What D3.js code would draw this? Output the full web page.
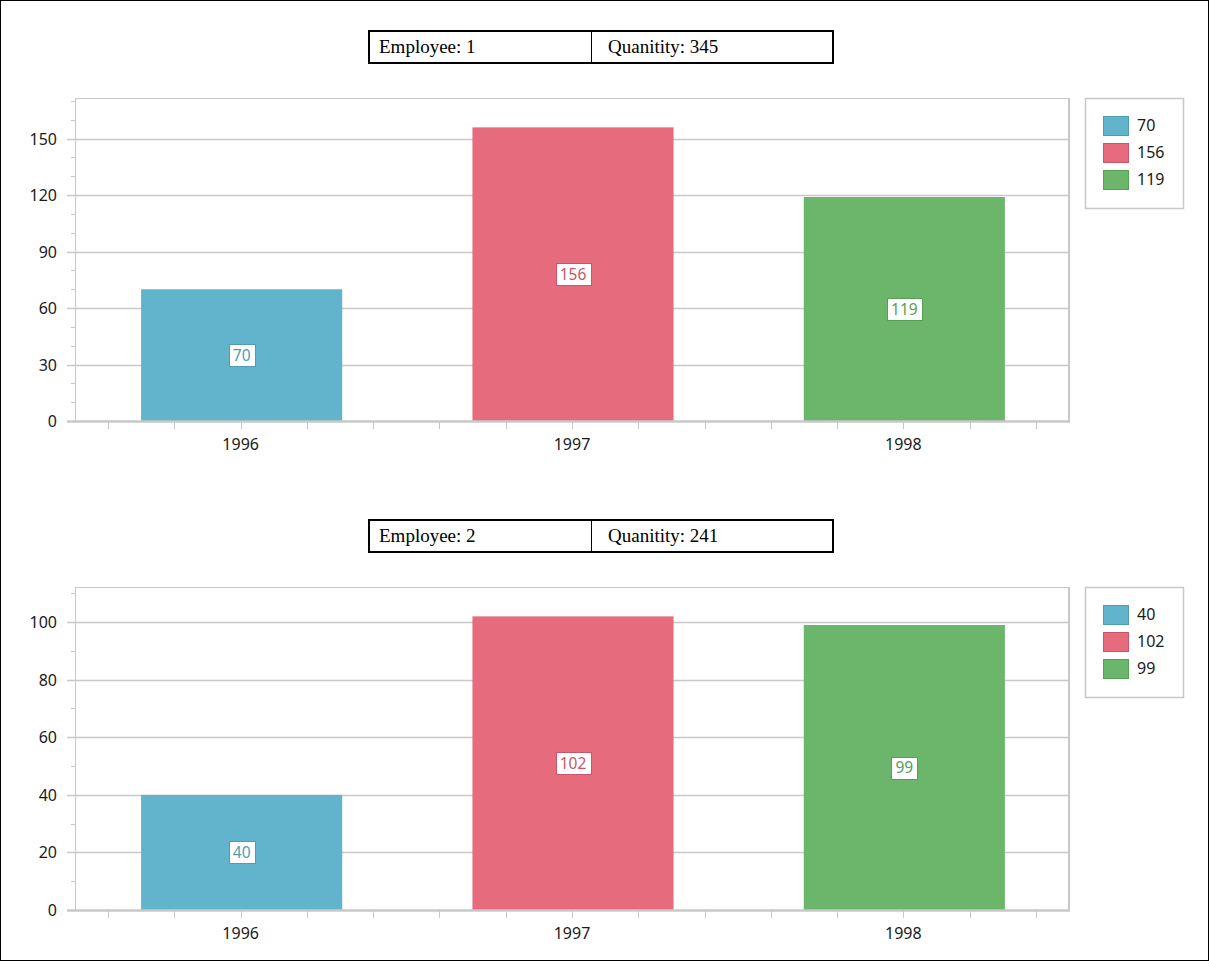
<!DOCTYPE html>
<html><head><meta charset="utf-8">
<script src="https://cdn.jsdelivr.net/npm/d3@7"></script>
<style>
html,body{margin:0;padding:0;background:#fff;}
svg{display:block;}
</style></head>
<body>
<svg id="c" width="1209" height="961"></svg>
<script>
const years = ["1996", "1997", "1998"];
const employees = [1, 2];
const quantities = [345, 241];
const values1 = [70, 156, 119];
const values2 = [40, 102, 99];
const yTicks1 = [0, 30, 60, 90, 120, 150];
const yTicks2 = [0, 20, 40, 60, 80, 100];
const minorStep1 = 10;
const minorStep2 = 10;
const colors = ["#62b4cd", "#e66b7c", "#6cb66c"];
const borders = ["#4f9db5", "#cc5468", "#55a055"];

const svg = d3.select("#c");
const W = 1209, H = 961;
svg.append("rect").attr("x", 0.5).attr("y", 0.5).attr("width", W - 1).attr("height", H - 1)
  .attr("fill", "#fff").attr("stroke", "#000").attr("stroke-width", 1);

const axisFont = "'Noto Sans', 'Open Sans', sans-serif";
const serifFont = "'Liberation Serif', 'Times New Roman', serif";

function drawPanel(top, emp, qty, values, ticks, minorStep) {
  const g = svg.append("g");
  // header table
  const hx = 369, hw = 464, hy = top, hh = 32;
  g.append("rect").attr("x", hx).attr("y", hy).attr("width", hw).attr("height", hh)
    .attr("fill", "#fff").attr("stroke", "#000").attr("stroke-width", 2);
  g.append("line").attr("x1", 591.5).attr("x2", 591.5).attr("y1", hy).attr("y2", hy + hh)
    .attr("stroke", "#000").attr("stroke-width", 1);
  g.append("text").attr("x", 379).attr("y", hy + 22).text("Employee: " + emp)
    .attr("font-family", serifFont).attr("font-size", 19).attr("fill", "#000");
  g.append("text").attr("x", 608).attr("y", hy + 22).text("Quanitity: " + qty)
    .attr("font-family", serifFont).attr("font-size", 19).attr("fill", "#000");

  // plot area
  const px0 = 75, px1 = 1069, py0 = top + 67, py1 = top + 390;
  const maxV = d3.max(values) * 1.1;
  const y = d3.scaleLinear().domain([0, maxV]).range([py1, py0]);
  const x = d3.scaleBand().domain(years).range([px0 + 1, px1 + 1]).paddingInner(0.393).paddingOuter(0.1965);
  const xb = d3.scaleBand().domain(years).range([px0, px1]);

  g.append("rect").attr("x", px0 + 0.5).attr("y", py0 + 0.5).attr("width", px1 - px0 - 1).attr("height", py1 - py0)
    .attr("fill", "#fff").attr("stroke", "#c8c8c8").attr("stroke-width", 1);
  g.append("line").attr("x1", px1).attr("x2", px1).attr("y1", py0).attr("y2", py1)
    .attr("stroke", "#c8c8c8").attr("stroke-width", 2);

  // gridlines + major ticks
  ticks.forEach(t => {
    const yy = Math.round(y(t)) + 0.5;
    g.append("line").attr("x1", 67).attr("x2", px1).attr("y1", yy).attr("y2", yy)
      .attr("stroke", "#c8c8c8").attr("stroke-width", t === 0 ? 0 : 1.3);
    g.append("text").attr("x", 57).attr("y", yy).attr("dy", "0.35em").attr("text-anchor", "end")
      .attr("font-family", axisFont).attr("font-size", 16).attr("fill", "#1a1a1a").text(t);
  });
  // minor ticks
  const minors = d3.range(0, maxV, minorStep).filter(v => !ticks.includes(v));
  minors.forEach(v => {
    const yy = Math.round(y(v)) + 0.5;
    g.append("line").attr("x1", 71).attr("x2", px0).attr("y1", yy).attr("y2", yy)
      .attr("stroke", "#c8c8c8").attr("stroke-width", 1);
  });

  // bars
  years.forEach((yr, i) => {
    g.append("rect").attr("x", x(yr)).attr("y", y(values[i])).attr("width", x.bandwidth())
      .attr("height", py1 - y(values[i])).attr("fill", colors[i]);
  });

  // x axis line
  g.append("line").attr("x1", 67).attr("x2", px1 + 1).attr("y1", py1 + 0.5).attr("y2", py1 + 0.5)
    .attr("stroke", "#c8c8c8").attr("stroke-width", 2.5);
  // x ticks every 1/5 band
  years.forEach(yr => {
    for (let k = 0; k < 5; k++) {
      const xx = Math.round(xb(yr) + xb.bandwidth() * (0.1 + 0.2 * k)) + 0.5;
      g.append("line").attr("x1", xx).attr("x2", xx).attr("y1", py1 + 1).attr("y2", py1 + 8)
        .attr("stroke", "#c8c8c8").attr("stroke-width", 1);
    }
    g.append("text").attr("x", xb(yr) + xb.bandwidth() / 2).attr("y", py1 + 23).attr("dy", "0.35em")
      .attr("text-anchor", "middle").attr("font-family", axisFont).attr("font-size", 16)
      .attr("fill", "#1a1a1a").text(yr);
  });

  // value labels
  years.forEach((yr, i) => {
    const cx = x(yr) + x.bandwidth() / 2;
    const cy = (y(values[i]) + py1) / 2;
    const txt = String(values[i]);
    const w = txt.length * 8.5 + 9;
    g.append("rect").attr("x", Math.round(cx - w / 2) + 0.5).attr("y", Math.round(cy - 11) + 0.5)
      .attr("width", Math.round(w)).attr("height", 22)
      .attr("fill", "#fff").attr("stroke", borders[i]).attr("stroke-width", 1);
    g.append("text").attr("x", cx).attr("y", cy).attr("dy", "0.36em").attr("text-anchor", "middle")
      .attr("font-family", axisFont).attr("font-size", 15.5).attr("fill", borders[i]).text(txt);
  });

  // legend
  const lx = 1085, ly = py0, lw = 98, lh = 110;
  g.append("rect").attr("x", lx + 0.5).attr("y", ly + 0.5).attr("width", lw).attr("height", lh)
    .attr("fill", "#fff").attr("stroke", "#c8c8c8").attr("stroke-width", 1.5);
  years.forEach((yr, i) => {
    const sy = ly + 18 + i * 27;
    g.append("rect").attr("x", 1103.5).attr("y", sy + 0.5).attr("width", 25).attr("height", 19)
      .attr("fill", colors[i]).attr("stroke", borders[i]).attr("stroke-width", 1);
    g.append("text").attr("x", 1137).attr("y", sy + 9).attr("dy", "0.35em")
      .attr("font-family", axisFont).attr("font-size", 16).attr("fill", "#1a1a1a").text(values[i]);
  });
}

drawPanel(31, employees[0], quantities[0], values1, yTicks1, minorStep1);
drawPanel(520, employees[1], quantities[1], values2, yTicks2, minorStep2);
</script>
</body></html>
